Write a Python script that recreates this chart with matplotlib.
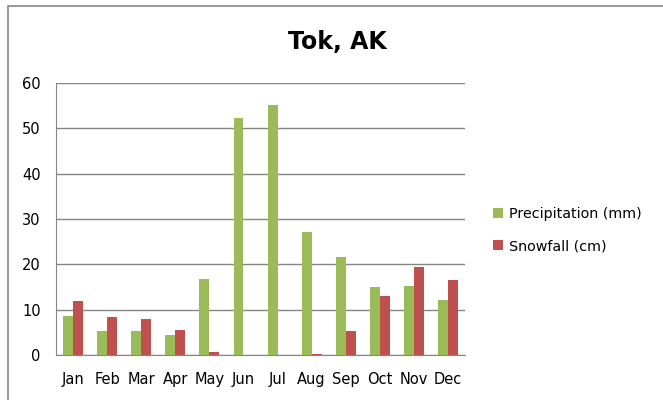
import matplotlib.pyplot as plt
from matplotlib.patches import Rectangle
import numpy as np

months = ['Jan', 'Feb', 'Mar', 'Apr', 'May', 'Jun', 'Jul', 'Aug', 'Sep', 'Oct', 'Nov', 'Dec']
precip = [8.6, 5.3, 5.3, 4.4, 16.8, 52.2, 55.2, 27.1, 21.7, 15.1, 15.3, 12.1]
snow = [12.0, 8.4, 8.0, 5.5, 0.7, 0.0, 0.0, 0.3, 5.3, 13.0, 19.4, 16.5]

green = '#9BBB59'
red = '#C0504D'
grid = '#868686'

fig = plt.figure(figsize=(6.63, 4.0), dpi=100)
# chart border
fig.patches.append(Rectangle((8/663, -0.1), 1.0, (394/400) + 0.1, transform=fig.transFigure,
                             fill=False, edgecolor='#888888', linewidth=1.2))
ax = fig.add_axes([56/663, 45/400, 409/663, 272/400])

x = np.arange(len(months))
w = 0.29
ax.bar(x - w/2, precip, w, color=green, label='Precipitation (mm)', zorder=3)
ax.bar(x + w/2, snow, w, color=red, label='Snowfall (cm)', zorder=3)

ax.set_xlim(-0.5, 11.5)
ax.set_ylim(0, 60)
ax.set_yticks(range(0, 61, 10))
ax.set_xticks(x)
ax.set_xticklabels(months)
ax.yaxis.grid(True, color=grid, linewidth=1, zorder=0)
ax.set_axisbelow(True)
for s in ['top', 'right']:
    ax.spines[s].set_visible(False)
ax.spines['left'].set_color(grid)
ax.spines['bottom'].set_color(grid)
ax.tick_params(axis='x', length=0, pad=12, labelsize=10.5)
ax.tick_params(axis='y', length=0, pad=11, labelsize=10.5)

fig.text(337/663, 1 - 42/400, 'Tok, AK', ha='center', va='center', fontsize=17, fontweight='bold')

fig.legend(loc='center left', bbox_to_anchor=(480/663, 1 - 230/400), frameon=False,
           fontsize=10.3, handlelength=0.7, handleheight=0.7, handletextpad=0.4, labelspacing=1.3)

fig.savefig('out.png', dpi=100)
